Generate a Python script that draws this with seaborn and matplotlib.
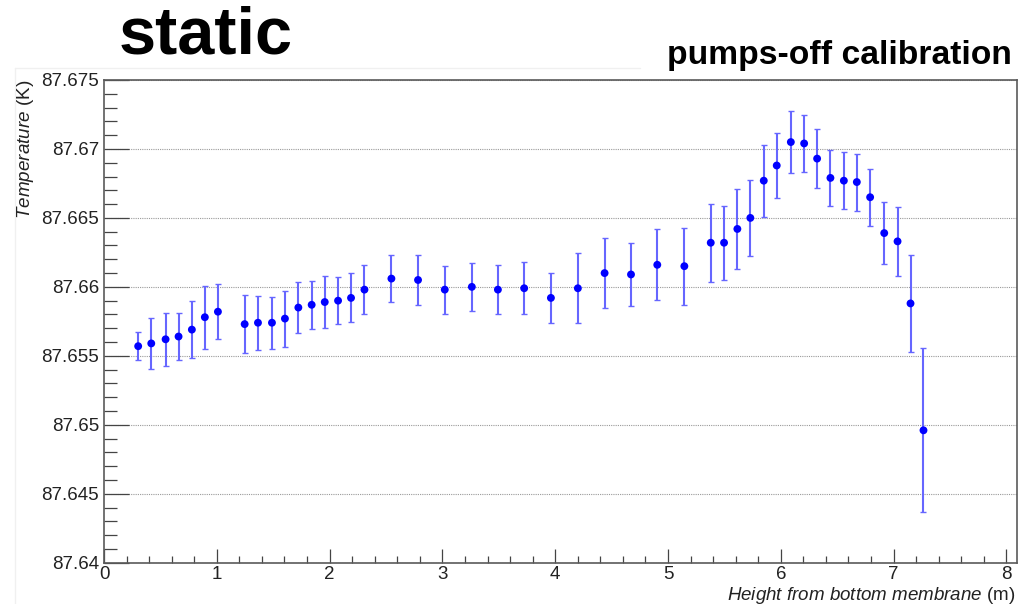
import numpy as np
import pandas as pd
import matplotlib
matplotlib.use("Agg")
import matplotlib.pyplot as plt
from matplotlib.lines import Line2D
from matplotlib.ticker import MultipleLocator, FuncFormatter
import seaborn as sns

# ---- data ----
height = [0.303, 0.419, 0.546, 0.661, 0.779, 0.894, 1.010, 1.247, 1.365, 1.489,
          1.604, 1.723, 1.841, 1.957, 2.075, 2.190, 2.309, 2.548, 2.784, 3.021,
          3.261, 3.492, 3.725, 3.962, 4.201, 4.438, 4.672, 4.905, 5.145, 5.379,
          5.497, 5.615, 5.730, 5.849, 5.964, 6.089, 6.207, 6.322, 6.440, 6.559,
          6.674, 6.792, 6.917, 7.035, 7.150, 7.265]
temperature = [87.6557, 87.6559, 87.6562, 87.6564, 87.6569, 87.6578, 87.6582, 87.6573, 87.6574, 87.6574,
               87.6577, 87.6585, 87.6587, 87.6589, 87.6590, 87.6592, 87.6598, 87.6606, 87.6605, 87.6598,
               87.6600, 87.6598, 87.6599, 87.6592, 87.6599, 87.6610, 87.6609, 87.6616, 87.6615, 87.6632,
               87.6632, 87.6642, 87.6650, 87.6677, 87.6688, 87.6705, 87.6704, 87.6693, 87.6679, 87.6677,
               87.6676, 87.6665, 87.6639, 87.6633, 87.6588, 87.6496]
temp_err = [0.00103, 0.00185, 0.00193, 0.00170, 0.00209, 0.00227, 0.00199, 0.00208, 0.00197, 0.00189,
            0.00203, 0.00185, 0.00176, 0.00186, 0.00172, 0.00177, 0.00180, 0.00170, 0.00178, 0.00174,
            0.00173, 0.00179, 0.00189, 0.00181, 0.00252, 0.00252, 0.00228, 0.00256, 0.00280, 0.00283,
            0.00268, 0.00291, 0.00277, 0.00261, 0.00233, 0.00222, 0.00204, 0.00215, 0.00200, 0.00206,
            0.00207, 0.00206, 0.00226, 0.00252, 0.00353, 0.00596]

x_ticks = [0, 1, 2, 3, 4, 5, 6, 7, 8]
y_ticks = [87.64, 87.645, 87.65, 87.655, 87.66, 87.665, 87.67, 87.675]

title_left = "static"
title_right = "pumps-off calibration"
xlabel = r"$\mathit{Height\ from\ bottom\ membrane}$ (m)"
ylabel = r"$\mathit{Temperature}$ (K)"

df = pd.DataFrame({"height": height, "temperature": temperature, "err": temp_err})

sns.set_theme(style="white")
plt.rcParams["font.family"] = ["Liberation Sans", "DejaVu Sans"]
plt.rcParams["mathtext.fontset"] = "custom"
plt.rcParams["mathtext.it"] = "Liberation Sans:italic"
plt.rcParams["mathtext.rm"] = "Liberation Sans"
plt.rcParams["mathtext.bf"] = "Liberation Sans:bold"

fig = plt.figure(figsize=(10.32, 6.04), dpi=100)
fig.patch.set_facecolor("white")
ax = fig.add_axes([104 / 1032, 1 - 562.7 / 604, (1017 - 104) / 1032, (562.7 - 80) / 604])

# faint canvas outline behind
fig.add_artist(Line2D([15 / 1032, 15 / 1032], [0, 1 - 68 / 604], transform=fig.transFigure,
                      color="#f0f0f0", lw=1))
fig.add_artist(Line2D([15 / 1032, 640 / 1032], [1 - 68 / 604, 1 - 68 / 604], transform=fig.transFigure,
                      color="#f0f0f0", lw=1))

ax.errorbar(df["height"], df["temperature"], yerr=df["err"], fmt="none",
            ecolor=(0.40, 0.40, 1.0), elinewidth=1.5, capsize=2, capthick=1.0, zorder=2)
sns.scatterplot(data=df, x="height", y="temperature", color="#0000ff", s=32,
                edgecolor="none", linewidth=0, ax=ax, zorder=3, legend=False)

ax.set_xlim(0, 8.094)
ax.set_ylim(87.64, 87.675)
ax.set_xticks(x_ticks)
ax.set_yticks(y_ticks)
ax.xaxis.set_minor_locator(MultipleLocator(0.2))
ax.yaxis.set_minor_locator(MultipleLocator(0.001))
ax.yaxis.set_major_formatter(FuncFormatter(lambda v, p: f"{v:.3f}".rstrip("0").rstrip(".")))
ax.xaxis.set_major_formatter(FuncFormatter(lambda v, p: f"{v:g}"))

ax.tick_params(axis="both", which="both", direction="in", colors="#444444",
               labelcolor="#222222", labelsize=13.5, pad=3.5, width=0.9,
               top=False, right=False, left=True, bottom=True)
ax.tick_params(axis="x", which="major", pad=2.5)
ax.tick_params(axis="y", which="major", length=18)
ax.tick_params(axis="y", which="minor", length=9.5)
ax.tick_params(axis="x", which="major", length=10)
ax.tick_params(axis="x", which="minor", length=5)

for s in ax.spines.values():
    s.set_color("#5a5a5a")
    s.set_linewidth(1.2)

ax.yaxis.grid(True, which="major", linestyle=(0, (1, 1)), color="#9a9a9a", linewidth=0.8)
ax.xaxis.grid(False)
ax.set_axisbelow(True)
ax.set_xlabel("")
ax.set_ylabel("")

fig.text(25 / 1032, 1 - 80 / 604, ylabel, rotation=90, ha="center", va="top",
         fontsize=13.6, color="#222222")
fig.text(1015 / 1032, 1 - 599.5 / 604, xlabel, ha="right", va="baseline",
         fontsize=13.5, color="#222222")

fig.text(119 / 1032, 1 - 53.3 / 604, title_left, ha="left", va="baseline",
         fontsize=48, fontweight="bold", color="black")
fig.text(1012 / 1032, 1 - 64.3 / 604, title_right, ha="right", va="baseline",
         fontsize=24.2, fontweight="bold", color="black")

fig.savefig("out.png", dpi=100, facecolor="white")
